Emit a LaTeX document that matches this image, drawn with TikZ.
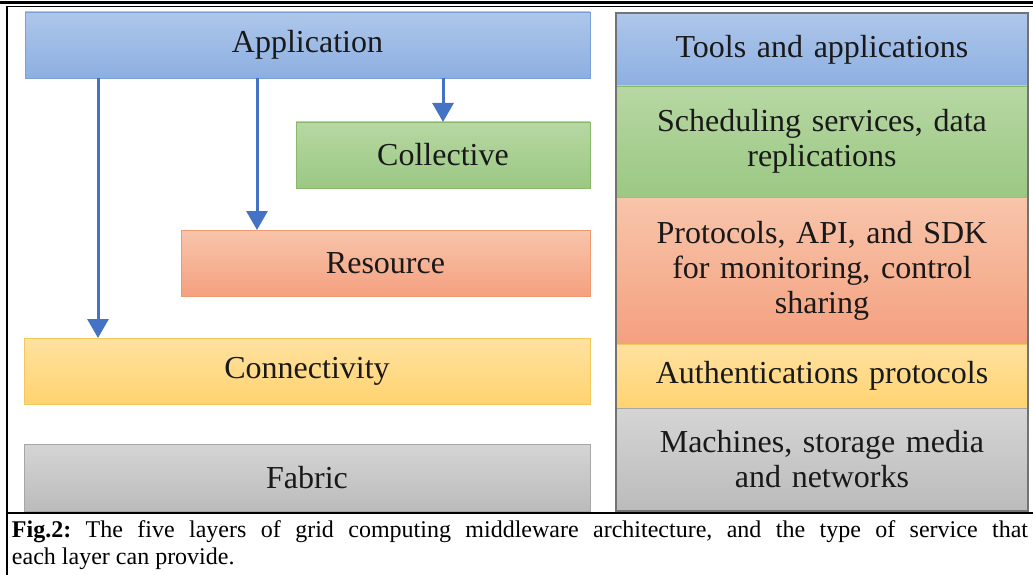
\documentclass[tikz,border=0pt]{standalone}
\usepackage{fontspec}
\setmainfont{Liberation Serif}
\usepackage{xcolor}
\usetikzlibrary{positioning,arrows.meta}

\definecolor{blueT}{HTML}{AEC7EB}
\definecolor{blueB}{HTML}{8DAFE1}
\definecolor{blueD}{HTML}{7C9FD6}
\definecolor{greenT}{HTML}{B7D7A3}
\definecolor{greenB}{HTML}{9BC883}
\definecolor{greenD}{HTML}{88B86C}
\definecolor{orangeT}{HTML}{F8C5AB}
\definecolor{orangeB}{HTML}{F4A07F}
\definecolor{orangeD}{HTML}{EE9A70}
\definecolor{goldT}{HTML}{FFE1A0}
\definecolor{goldB}{HTML}{FFD370}
\definecolor{goldD}{HTML}{F4C860}
\definecolor{grayT}{HTML}{D5D5D5}
\definecolor{grayB}{HTML}{BBBBBB}
\definecolor{grayD}{HTML}{A6A6A6}
\definecolor{arrblue}{HTML}{4472C4}

\begin{document}
\begin{tikzpicture}[x=1pt, y=-1pt,
	every node/.style={rectangle, inner sep=0pt, outer sep=0pt, text=black!90, font=\fontsize{32}{35}\selectfont},
	layer/.style={anchor=north west, minimum height=66pt, line width=0.8pt},
	service/.style={minimum width=412pt, text width=400pt, align=center, line width=0.8pt},
	blue/.style={top color=blueT, bottom color=blueB, draw=blueD},
	green/.style={top color=greenT, bottom color=greenB, draw=greenD},
	orange/.style={top color=orangeT, bottom color=orangeB, draw=orangeD},
	gold/.style={top color=goldT, bottom color=goldB, draw=goldD},
	grey/.style={top color=grayT, bottom color=grayB, draw=grayD},
	arr/.style={draw=arrblue, line width=3pt, -{Triangle[width=21pt,length=19pt]}}]

	\useasboundingbox (0,0) rectangle (1033,575);

	% frame
	\draw[line width=3pt] (0,2.5) -- (1033,2.5);
	\draw[line width=1.5pt] (7,6.5) -- (1033,6.5);
	\draw[line width=2.5pt] (7,6) -- (7,575);
	\draw[line width=2.5pt] (7,513) -- (1033,513);

	% layers
	\node[layer, blue, minimum width=565pt] (app) at (25,12) {Application};
	\node[layer, green, minimum width=294pt] (coll) at (296,122) {Collective};
	\node[layer, orange, minimum width=409pt] (res) at (181,230) {Resource};
	\node[layer, gold, minimum width=566pt] (conn) at (24,338) {Connectivity};
	\node[layer, grey, minimum width=566pt, minimum height=67pt] (fab) at (24,444) {Fabric};

	% services
	\node[service, blue, anchor=north west, minimum height=73pt] (tools) at (616,13) {Tools and applications};
	\node[service, green, below=0pt of tools, minimum height=111pt] (sched) {Scheduling services, data\\replications};
	\node[service, orange, below=0pt of sched, minimum height=147pt] (proto) {Protocols, API, and SDK\\for monitoring, control\\sharing};
	\node[service, gold, below=0pt of proto, minimum height=64pt] (auth) {Authentications protocols};
	\node[service, grey, below=0pt of auth, minimum height=103pt] (mach) {Machines, storage media\\and networks};
	\draw[draw=black!55, line width=1.2pt] (tools.north west) rectangle (mach.south east);

	% arrows
	\coordinate (c1) at ([xshift=74pt]conn.north west);
	\coordinate (c2) at ([xshift=76pt]res.north west);
	\draw[arr] (app.south -| c1) -- (c1);
	\draw[arr] (app.south -| c2) -- (c2);
	\draw[arr] (app.south -| coll.north) -- (coll.north);

	% caption
	\node[anchor=north west, text width=1016pt, align=justify, text=black, font=\fontsize{24}{27}\selectfont\frenchspacing] (cap) at (12,521)
		{\textbf{Fig.2:} The five layers of grid computing middleware architecture, and the type of service that\linebreak each layer can provide.};

\end{tikzpicture}
\end{document}
